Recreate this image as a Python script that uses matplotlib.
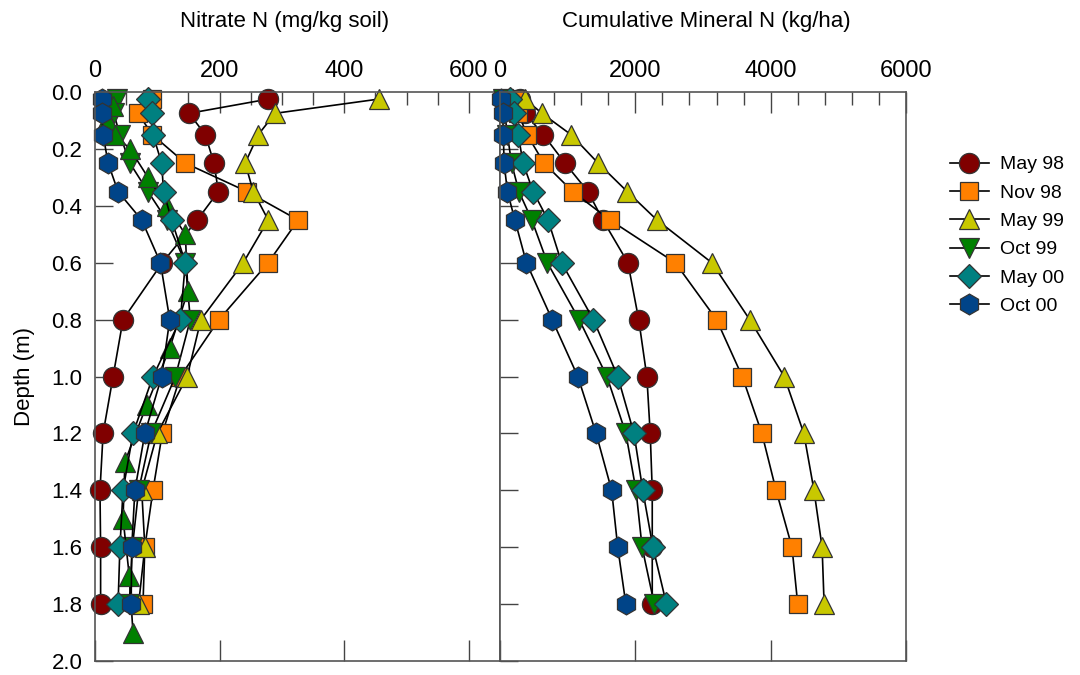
import numpy as np
import matplotlib
matplotlib.use("Agg")
import matplotlib.pyplot as plt
from matplotlib.ticker import MultipleLocator, FormatStrFormatter

plt.rcParams["font.family"] = ["Liberation Sans", "DejaVu Sans"]

#  DATA 
depth = [0.025, 0.075, 0.15, 0.25, 0.35, 0.45, 0.6, 0.8, 1.0, 1.2, 1.4, 1.6, 1.8]
depth_alt = [0.05, 0.1, 0.15, 0.2, 0.3, 0.4, 0.5, 0.7, 0.9, 1.1, 1.3, 1.5, 1.7, 1.9]

labels = ["May 98", "Nov 98", "May 99", "Oct 99", "May 00", "Oct 00"]

# nitrate N (mg/kg soil)
no3_may98 = [278, 151, 177, 191, 198, 164, 108, 45, 29, 13, 8, 9, 9]
no3_nov98 = [92, 69, 92, 145, 244, 326, 278, 199, 137, 108, 93, 80, 77]
no3_may99 = [455, 289, 262, 241, 254, 278, 238, 170, 148, 100, 75, 80, 70]
no3_oct99 = [35, 30, 40, 56, 85, 115, 145, 153, 129, 90, 70, 60, 55]
no3_may00 = [85, 91, 93, 107, 110, 123, 145, 137, 93, 61, 45, 40, 37]
no3_oct00 = [11, 11, 13, 21, 37, 75, 105, 120, 107, 80, 64, 59, 58]
no3_extra = [29, 19, 32, 56, 85, 115, 145, 149, 120, 83, 48, 45, 55, 61]

# cumulative mineral N (kg/ha)
cum_may98 = [300, 370, 640, 960, 1300, 1520, 1890, 2050, 2170, 2220, 2250, 2250, 2250]
cum_nov98 = [220, 270, 400, 650, 1075, 1625, 2590, 3200, 3580, 3870, 4080, 4315, 4400]
cum_may99 = [370, 620, 1050, 1450, 1880, 2320, 3130, 3690, 4200, 4490, 4640, 4760, 4790]
cum_oct99 = [50, 70, 110, 170, 280, 470, 700, 1170, 1580, 1860, 2010, 2100, 2280]
cum_may00 = [150, 200, 270, 340, 490, 710, 910, 1380, 1740, 1980, 2110, 2260, 2460]
cum_oct00 = [20, 40, 50, 60, 110, 220, 390, 770, 1150, 1420, 1650, 1740, 1860]

#  STYLE 
colors  = ["#800000", "#FF8000", "#C8C800", "#008000", "#008080", "#004488"]
markers = ["o", "s", "^", "v", "D", "h"]
msizes  = [14.5, 13, 14.5, 14.5, 12, 15]

fig = plt.figure(figsize=(10.8, 6.75), dpi=100)
ax1 = fig.add_axes([95/1080, 1 - 661/675, 405/1080, 569/675])
ax2 = fig.add_axes([500/1080, 1 - 661/675, 406/1080, 569/675])


def draw(ax, x, y, i, label=None):
    ax.plot(x, y, color="black", lw=1.2, marker=markers[i], ms=msizes[i],
            mfc=colors[i], mec="#333333", mew=0.9, clip_on=False, label=label)


left = [no3_may98, no3_nov98, no3_may99, no3_oct99, no3_may00, no3_oct00]
right = [cum_may98, cum_nov98, cum_may99, cum_oct99, cum_may00, cum_oct00]

for i in range(6):
    draw(ax1, left[i], depth, i)
    if i == 3:
        # extra green series sampled at other depths
        ax1.plot(no3_extra, depth_alt, color="black", lw=1.2, marker="^", ms=14.5,
                 mfc=colors[3], mec="#333333", mew=0.9, clip_on=False)
for i in range(6):
    draw(ax2, right[i], depth, i, labels[i])

#  AXES 
for ax in (ax1, ax2):
    ax.set_ylim(2.0, 0.0)
    ax.xaxis.tick_top()
    ax.yaxis.set_major_locator(MultipleLocator(0.2))
    ax.tick_params(axis="x", which="major", direction="in", top=True, bottom=True,
                   length=15, width=1, color="#444444", labelsize=17, pad=7)
    ax.tick_params(axis="x", which="minor", direction="in", top=True, bottom=False,
                   length=9, width=1, color="#444444")
    ax.tick_params(axis="y", direction="in", length=13, width=1, color="#444444",
                   labelsize=16, pad=9)
    for s in ax.spines.values():
        s.set_color("#555555")
        s.set_linewidth(1.2)

ax1.set_xlim(0, 650)
ax1.xaxis.set_major_locator(MultipleLocator(200))
ax1.xaxis.set_minor_locator(MultipleLocator(50))
ax1.yaxis.set_major_formatter(FormatStrFormatter("%.1f"))
ax1.set_ylabel("Depth (m)", fontsize=16, labelpad=12)

ax2.set_xlim(0, 6000)
ax2.xaxis.set_major_locator(MultipleLocator(2000))
ax2.xaxis.set_minor_locator(MultipleLocator(400))
ax2.tick_params(axis="y", labelleft=False)

fig.text(285/1080, 1 - 22/675, "Nitrate N (mg/kg soil)", ha="center", va="center", fontsize=16)
fig.text(706/1080, 1 - 22/675, "Cumulative Mineral N (kg/ha)", ha="center", va="center", fontsize=16)

fig.legend(loc="upper left", bbox_to_anchor=(942/1080, 1 - 148/675), frameon=False,
           fontsize=14, handlelength=2.0, labelspacing=0.55, handletextpad=0.6,
           borderaxespad=0)

fig.savefig("out.png", dpi=100)
